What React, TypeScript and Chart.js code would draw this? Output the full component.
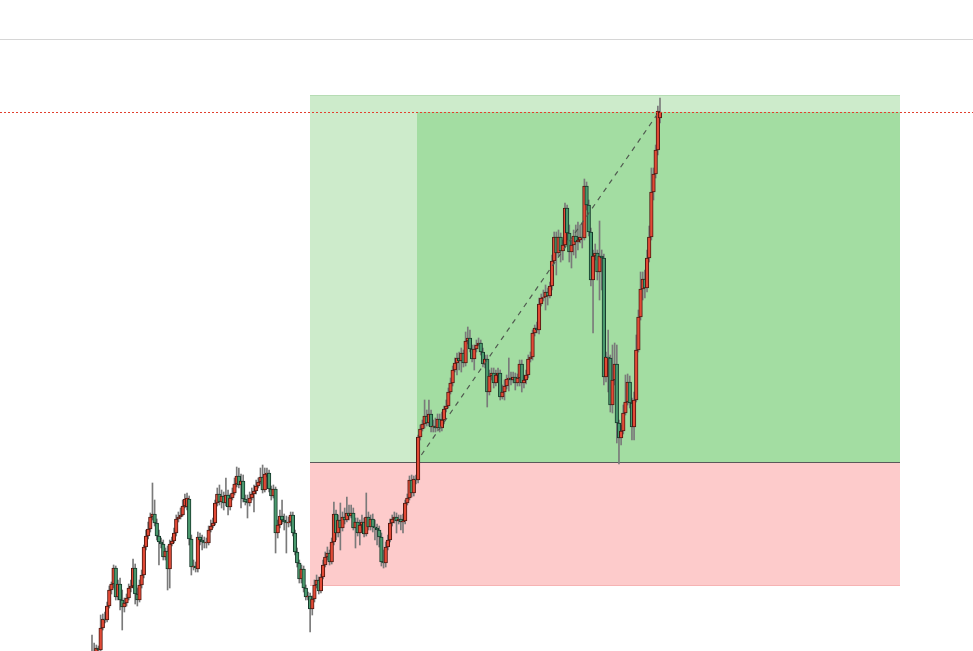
import React, { useEffect, useRef } from 'react';
import { Chart, registerables } from 'chart.js';

Chart.register(...registerables);

// ---- OHLC data (one entry per bar, price units) ----
const opens = [
  330,340,348,352,350,372,381,380,394,410,
  416,432,403,416,400,393,397,402,412,414,
  432,406,400,415,425,453,464,471,483,486,
  477,464,458,456,443,449,431,456,459,467,
  481,483,485,494,493,501,461,433,434,431,
  463,460,458,457,457,470,474,477,497,506,
  498,504,497,505,493,502,507,516,524,515,
  519,501,498,497,502,506,509,514,518,523,
  510,526,527,511,504,511,467,475,484,480,
  478,477,478,485,467,448,437,421,431,412,
  403,404,391,401,415,420,409,423,435,443,
  447,438,458,486,467,480,472,483,480,487,
  484,487,472,478,467,475,478,466,483,473,
  481,473,472,470,463,438,437,453,460,477,
  481,483,479,481,478,479,497,502,520,507,
  521,520,563,571,576,584,577,586,573,574,
  572,581,572,580,591,594,608,617,630,637,
  642,639,647,637,659,662,651,641,651,655,
  657,648,636,641,608,624,627,617,625,627,
  603,608,614,621,622,620,623,617,622,636,
  617,620,625,641,643,667,672,670,696,702,
  703,708,704,714,739,763,747,763,749,755,
  792,767,748,755,764,758,760,763,762,814,
  795,768,720,744,747,728,744,742,623,643,
  642,595,620,636,577,562,569,587,598,618,
  597,573,600,650,683,711,721,712,742,763,
  808,826,850,882,
];
const closes = [
  340,348,352,350,372,381,380,394,410,416,
  432,403,416,400,393,397,402,412,414,432,
  406,400,415,425,453,464,471,483,486,477,
  464,458,456,443,449,431,456,459,467,481,
  483,485,494,501,502,461,433,434,432,463,
  460,458,457,458,470,474,477,497,506,498,
  504,497,505,493,502,507,516,524,515,519,
  501,498,497,502,506,509,514,518,523,510,
  526,527,511,504,511,467,475,484,480,478,
  477,478,485,467,448,437,421,431,412,403,
  404,391,401,415,420,409,423,435,443,447,
  438,458,486,467,480,472,483,480,487,484,
  487,472,478,467,475,478,466,483,473,481,
  473,472,470,463,438,437,453,460,477,481,
  483,479,481,478,479,497,502,520,507,521,
  520,563,571,576,584,577,586,573,574,572,
  581,572,580,591,594,608,617,630,637,642,
  639,647,637,659,662,651,641,651,655,657,
  648,636,641,608,624,627,617,625,627,603,
  608,614,621,622,620,623,617,622,636,617,
  620,625,641,643,667,672,670,696,702,703,
  708,704,714,739,763,747,763,749,755,792,
  767,748,755,764,758,760,763,762,814,795,
  768,720,744,747,728,744,742,623,643,642,
  595,620,636,577,562,569,587,598,618,597,
  573,600,650,683,711,721,712,742,763,808,
  826,850,889,888,
];
const highs = [
  365,357,355,354,385,386,388,398,414,418,
  435,434,420,422,410,402,406,416,420,441,
  436,412,420,430,455,470,478,487,517,500,
  481,470,462,460,452,454,460,463,472,485,
  488,492,500,506,507,504,465,440,438,468,
  467,465,463,462,474,480,482,500,512,515,
  510,508,522,510,506,512,522,533,532,526,
  525,505,505,508,512,515,520,522,532,535,
  532,532,530,514,515,513,480,490,500,486,
  484,483,488,488,470,452,440,435,434,415,
  408,407,404,420,425,423,426,440,448,453,
  450,462,498,490,485,497,488,492,503,495,
  495,492,482,482,480,485,482,507,488,485,
  486,480,476,474,467,450,458,465,481,485,
  488,487,485,485,486,500,506,524,525,524,
  525,565,575,580,600,590,600,590,580,582,
  586,586,588,594,600,612,622,634,642,647,
  648,652,650,668,673,670,655,655,660,662,
  660,652,645,645,630,632,632,630,632,630,
  615,620,625,642,628,628,627,626,640,640,
  625,630,645,648,670,675,678,702,706,710,
  715,712,718,745,768,768,770,767,760,797,
  795,775,760,770,775,778,775,777,821,818,
  800,772,750,756,750,779,750,746,648,670,
  645,655,657,655,580,575,595,625,626,624,
  602,608,665,690,728,728,730,750,774,832,
  832,855,894,902,
];
const lows = [
  325,338,347,348,348,370,377,378,392,406,
  412,400,400,390,370,388,394,400,408,412,
  396,394,398,412,422,450,461,468,480,474,
  460,435,452,440,440,410,412,454,457,464,
  478,481,484,492,490,455,425,430,428,428,
  455,450,452,452,455,468,472,475,494,495,
  492,490,494,485,490,500,505,513,512,492,
  498,495,482,494,500,488,506,512,516,507,
  508,523,508,500,502,447,462,472,476,470,
  447,473,474,464,445,433,417,417,408,400,
  400,368,385,398,412,406,407,421,433,440,
  435,436,455,460,463,450,469,476,478,480,
  482,470,452,464,455,472,463,464,470,470,
  468,460,455,453,434,432,433,450,458,474,
  477,467,476,470,467,476,495,500,503,504,
  516,517,560,569,572,574,574,568,568,568,
  569,568,569,576,588,592,606,614,628,625,
  630,628,633,634,656,648,638,630,648,654,
  645,633,632,593,605,620,612,614,622,600,
  601,600,611,609,615,617,610,614,614,608,
  612,616,622,638,640,664,667,666,694,699,
  690,695,702,710,736,725,744,738,740,752,
  760,738,732,745,742,750,757,752,760,790,
  764,714,667,740,720,700,710,615,618,608,
  588,587,615,557,536,555,566,585,595,592,
  560,560,598,648,680,700,702,708,738,760,
  800,822,845,877,
];

// ---- long position tool (bar indices / prices) ----
const ENTRY_PRICE = 538;
const TARGET_PRICE = 905;
const STOP_PRICE = 414;
const LAST_PRICE = 888;
const TOOL_START_BAR = 101;
const ENTRY_BAR = 150.5;
const TOOL_END_BAR = 374;
const TREND_START_BAR = 152.5;
const TREND_START_PRICE = 545;
const TREND_END_BAR = 261.5;
const TREND_END_PRICE = 885;

// visible price range of the pane
const PRICE_MIN = 349;
const PRICE_MAX = 960;

// ---- layout / style ----
const CHART_W = 973;
const CHART_H = 611;
const FIRST_BAR_PX = 92;
const LAST_BAR_PX = 660;

const UP_FILL = '#e24a36';
const UP_EDGE = '#4e1710';
const DOWN_FILL = '#4a9a6e';
const DOWN_EDGE = '#15382a';
const WICK = '#7a7a7a';

const positionTool = {
  id: 'positionTool',
  beforeDatasetsDraw(chart: any) {
    const { ctx } = chart;
    const x = chart.scales.x;
    const y = chart.scales.y;
    const x0 = Math.round(x.getPixelForValue(TOOL_START_BAR));
    const xe = Math.round(x.getPixelForValue(ENTRY_BAR));
    const x1 = Math.round(x.getPixelForValue(TOOL_END_BAR));
    const yT = Math.round(y.getPixelForValue(TARGET_PRICE));
    const yE = Math.round(y.getPixelForValue(ENTRY_PRICE));
    const yS = Math.round(y.getPixelForValue(STOP_PRICE));
    const yL = Math.round(y.getPixelForValue(LAST_PRICE));
    ctx.save();
    ctx.fillStyle = '#cdebcb';
    ctx.fillRect(x0, yT, x1 - x0, yE - yT);
    ctx.fillStyle = '#a3dda2';
    ctx.fillRect(xe, yL, x1 - xe, yE - yL);
    ctx.fillStyle = '#fdcbcb';
    ctx.fillRect(x0, yE, x1 - x0, yS - yE);
    // outer edges
    ctx.fillStyle = '#b6dcb4';
    ctx.fillRect(x0, yT, x1 - x0, 1);
    ctx.fillStyle = '#f6b3b3';
    ctx.fillRect(x0, yS - 1, x1 - x0, 1);
    // entry line
    ctx.fillStyle = '#5a5a5a';
    ctx.fillRect(x0, yE, x1 - x0, 1);
    ctx.restore();
  },
  afterDatasetsDraw(chart: any) {
    const { ctx, chartArea } = chart;
    const x = chart.scales.x;
    const y = chart.scales.y;
    ctx.save();
    // dashed line from entry to last price
    ctx.strokeStyle = '#505a50';
    ctx.lineWidth = 1.2;
    ctx.setLineDash([5, 5]);
    ctx.beginPath();
    ctx.moveTo(x.getPixelForValue(TREND_START_BAR), y.getPixelForValue(TREND_START_PRICE));
    ctx.lineTo(x.getPixelForValue(TREND_END_BAR), y.getPixelForValue(TREND_END_PRICE));
    ctx.stroke();
    // last price line
    const yL = Math.round(y.getPixelForValue(LAST_PRICE)) + 0.5;
    ctx.strokeStyle = '#e2402f';
    ctx.lineWidth = 1;
    ctx.setLineDash([2, 2]);
    ctx.beginPath();
    ctx.moveTo(chartArea.left, yL);
    ctx.lineTo(chartArea.right, yL);
    ctx.stroke();
    ctx.restore();
  },
};

export default function App() {
  const ref = useRef<HTMLCanvasElement>(null);

  useEffect(() => {
    const canvas = ref.current;
    if (!canvas) return;
    const pxPerBar = (LAST_BAR_PX - FIRST_BAR_PX) / (closes.length - 1);
    const xMin = -FIRST_BAR_PX / pxPerBar;
    const xMax = xMin + CHART_W / pxPerBar;
    const up = closes.map((c, i) => c >= opens[i]);

    const chart = new Chart(canvas, {
      type: 'bar',
      data: {
        datasets: [
          {
            label: 'body',
            data: closes.map((c, i) => ({ x: i, y: [opens[i], c] })) as any,
            backgroundColor: up.map((u) => (u ? UP_FILL : DOWN_FILL)),
            borderColor: up.map((u) => (u ? UP_EDGE : DOWN_EDGE)),
            borderWidth: 1,
            borderSkipped: false,
            barThickness: 3.6,
            grouped: false,
            order: 0,
          } as any,
          {
            label: 'wick',
            data: lows.map((l, i) => ({ x: i, y: [l, highs[i]] })) as any,
            backgroundColor: WICK,
            borderWidth: 0,
            barThickness: 1,
            grouped: false,
            order: 1,
          } as any,
        ],
      },
      options: {
        animation: false,
        responsive: false,
        devicePixelRatio: 1,
        events: [],
        layout: { padding: 0 },
        plugins: { legend: { display: false }, tooltip: { enabled: false } },
        scales: {
          x: { type: 'linear', display: false, min: xMin, max: xMax, offset: false },
          y: { type: 'linear', display: false, min: PRICE_MIN, max: PRICE_MAX },
        },
      } as any,
      plugins: [positionTool],
    });
    return () => chart.destroy();
  }, []);

  return (
    <div
      style={{
        position: 'fixed',
        left: 0,
        top: 0,
        width: CHART_W,
        height: 651,
        background: '#ffffff',
        overflow: 'hidden',
      }}
    >
      <div style={{ height: 39, borderBottom: '1px solid #d6d6d6' }} />
      <canvas ref={ref} width={CHART_W} height={CHART_H} style={{ display: 'block' }} />
    </div>
  );
}
